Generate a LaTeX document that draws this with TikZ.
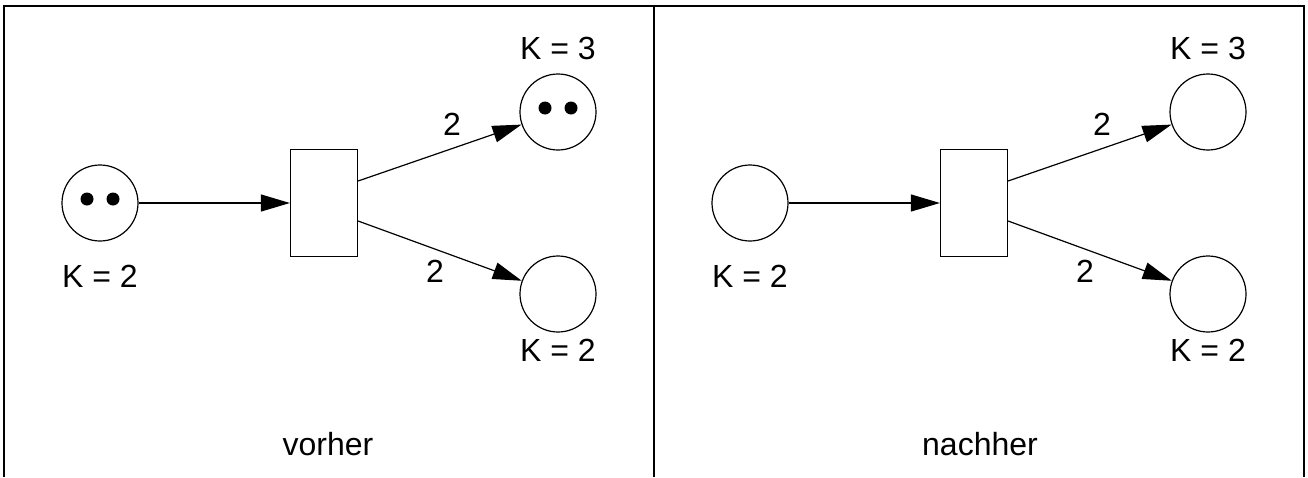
\documentclass[tikz,border=0pt]{standalone}
\usepackage{fontspec}
\setmainfont{Liberation Sans}
\usetikzlibrary{arrows.meta,calc}

\begin{document}
\begin{tikzpicture}[x=1pt, y=-1pt,
    place/.style={draw, circle, line width=1.2pt, minimum size=76pt, inner sep=0pt},
    trans/.style={draw, rectangle, line width=1.2pt, minimum width=67pt, minimum height=107pt, inner sep=0pt},
    token/.style={fill, circle, minimum size=13pt, inner sep=0pt},
    arc/.style={-{Triangle[length=29pt, width=17pt]}, line width=1.2pt},
    lbl/.style={font=\fontsize{32}{38}\selectfont, inner sep=0pt}]
    \useasboundingbox (0,0) rectangle (1308,477);

    % Frame
    \draw[line width=1.6pt] (4,477) -- (4,6) -- (1304,6) -- (1304,477);
    \draw[line width=1.6pt] (654,6) -- (654,477);

    % vorher
    \node[place] (p1) at (100,203) {};
    \node[trans] (t1) at (324,203) {};
    \node[place] (p2) at (558,112) {};
    \node[place] (p3) at (558,294) {};
    \node[token] (p1a) at ($(p1)+(-13,-4)$) {};
    \node[token] (p1b) at ($(p1)+(13,-4)$) {};
    \node[token] (p2a) at ($(p2)+(-13,-4)$) {};
    \node[token] (p2b) at ($(p2)+(13,-4)$) {};

    \node[lbl] (k1) at (100,276) {K = 2};
    \node[lbl] (k2) at (558,48) {K = 3};
    \node[lbl] (k3) at (558,350) {K = 2};
    \node[lbl] (w1) at (452,124) {2};
    \node[lbl] (w2) at (435,271) {2};
    \node[lbl] (vor) at (328,444) {vorher};

    \draw[arc] (p1) -- (t1);
    \draw[arc] ($(t1.east)+(0,-22)$) -- (p2);
    \draw[arc] ($(t1.east)+(0,18)$) -- (p3);

    % nachher
    \node[place] (q1) at (750,203) {};
    \node[trans] (u1) at (974,203) {};
    \node[place] (q2) at (1208,112) {};
    \node[place] (q3) at (1208,294) {};

    \node[lbl] (l1) at (750,276) {K = 2};
    \node[lbl] (l2) at (1208,48) {K = 3};
    \node[lbl] (l3) at (1208,350) {K = 2};
    \node[lbl] (v1) at (1102,124) {2};
    \node[lbl] (v2) at (1085,271) {2};
    \node[lbl] (nach) at (980,444) {nachher};

    \draw[arc] (q1) -- (u1);
    \draw[arc] ($(u1.east)+(0,-22)$) -- (q2);
    \draw[arc] ($(u1.east)+(0,18)$) -- (q3);
\end{tikzpicture}
\end{document}
